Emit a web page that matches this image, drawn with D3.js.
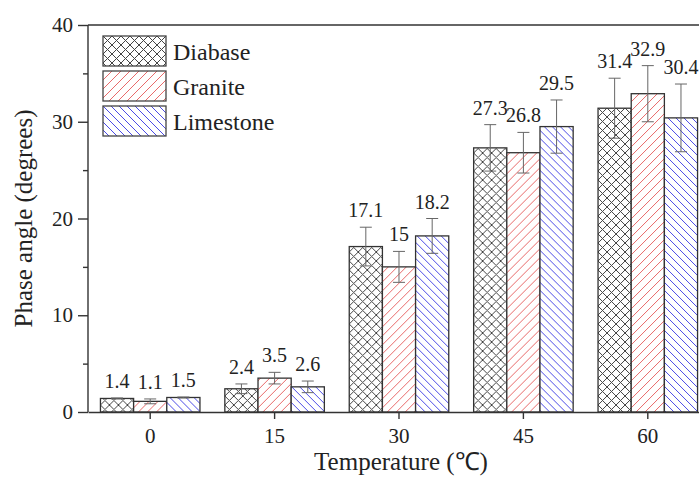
<!DOCTYPE html>
<html>
<head>
<meta charset="utf-8">
<script src="https://cdn.jsdelivr.net/npm/d3@7"></script>
<style>
	body { margin: 0; background: #fff; }
	svg { display: block; font-family: "Liberation Serif", "Times New Roman", serif; }
</style>
</head>
<body>
<svg id="chart"></svg>
<script>
const temperatures = ["0", "15", "30", "45", "60"];
const rocks = ["Diabase", "Granite", "Limestone"];
const diabase = [1.4, 2.4, 17.1, 27.3, 31.4];
const granite = [1.1, 3.5, 15, 26.8, 32.9];
const limestone = [1.5, 2.6, 18.2, 29.5, 30.4];
const diabaseErr = [0.05, 0.5, 2.0, 2.4, 3.1];
const graniteErr = [0.25, 0.6, 1.6, 2.1, 2.9];
const limestoneErr = [0.05, 0.6, 1.8, 2.75, 3.5];
const yTicks = [0, 10, 20, 30, 40];
const yMinorTicks = [5, 15, 25, 35];

const values = [diabase, granite, limestone];
const errors = [diabaseErr, graniteErr, limestoneErr];

const width = 699;
const height = 484;
const margin = { top: 25, left: 88, bottom: 72 };
const plotRight = 710; // the frame runs past the window edge in the original

const svg = d3.select("#chart").attr("width", width).attr("height", height);

// hatch patterns
const defs = svg.append("defs");
const hatch = (id, color, size, dirs) => {
	const p = defs
		.append("pattern")
		.attr("id", id)
		.attr("patternUnits", "userSpaceOnUse")
		.attr("width", size)
		.attr("height", size);
	p.append("rect").attr("width", size).attr("height", size).attr("fill", "#fff");
	dirs.forEach((d) => {
		const pts = d === "/" ? [[-1, size + 1], [size + 1, -1]] : [[-1, -1], [size + 1, size + 1]];
		p.append("line")
			.attr("x1", pts[0][0]).attr("y1", pts[0][1])
			.attr("x2", pts[1][0]).attr("y2", pts[1][1])
			.attr("stroke", color)
			.attr("stroke-width", 1);
	});
};
hatch("pat-diabase", "#444", 9, ["/", "\\"]);
hatch("pat-granite", "#e86a6a", 9, ["/"]);
hatch("pat-limestone", "#4b4be6", 8, ["\\"]);
const fills = ["url(#pat-diabase)", "url(#pat-granite)", "url(#pat-limestone)"];

const x = d3
	.scaleBand()
	.domain(temperatures)
	.range([margin.left, plotRight])
	.paddingInner(0.2)
	.paddingOuter(0.1);
const xInner = d3.scaleBand().domain(rocks).range([0, x.bandwidth()]);
const y = d3
	.scaleLinear()
	.domain([0, 40])
	.range([height - margin.bottom, margin.top]);

// bars
const groups = svg
	.append("g")
	.selectAll("g")
	.data(temperatures)
	.join("g")
	.attr("transform", (d) => `translate(${x(d)},0)`);

rocks.forEach((rock, r) => {
	groups
		.append("rect")
		.attr("x", xInner(rock))
		.attr("y", (d, i) => y(values[r][i]))
		.attr("width", xInner.bandwidth())
		.attr("height", (d, i) => y(0) - y(values[r][i]))
		.attr("fill", fills[r])
		.attr("stroke", "#333")
		.attr("stroke-width", 1.3);
});

// error bars and value labels
rocks.forEach((rock, r) => {
	const cx = xInner(rock) + xInner.bandwidth() / 2;
	const eb = groups.append("g").attr("stroke", "#666").attr("stroke-width", 1);
	eb.append("line")
		.attr("x1", cx).attr("x2", cx)
		.attr("y1", (d, i) => y(values[r][i] + errors[r][i]))
		.attr("y2", (d, i) => y(values[r][i] - errors[r][i]));
	[1, -1].forEach((s) => {
		eb.append("line")
			.attr("x1", cx - 6).attr("x2", cx + 6)
			.attr("y1", (d, i) => y(values[r][i] + s * errors[r][i]))
			.attr("y2", (d, i) => y(values[r][i] + s * errors[r][i]));
	});
	groups
		.append("text")
		.attr("x", cx)
		.attr("y", (d, i) => y(values[r][i] + errors[r][i]) - 10)
		.attr("text-anchor", "middle")
		.attr("font-size", 20)
		.attr("fill", "#222")
		.text((d, i) => values[r][i]);
});

// axes
const axisColor = "#333";
const yAxis = svg
	.append("g")
	.attr("transform", `translate(${margin.left},0)`)
	.call(d3.axisLeft(y).tickValues(yTicks).tickSize(10).tickPadding(5).tickFormat(d3.format("d")));
svg.append("g")
	.attr("transform", `translate(${margin.left},0)`)
	.call(d3.axisLeft(y).tickValues(yMinorTicks).tickSize(5).tickFormat(""))
	.call((g) => g.select(".domain").remove());

const xAxis = svg
	.append("g")
	.attr("transform", `translate(0,${y(0)})`)
	.call(d3.axisBottom(x).tickSize(7).tickPadding(9).tickSizeOuter(0));

svg.selectAll(".tick line, .domain").attr("stroke", axisColor).attr("stroke-width", 1.4);
svg.selectAll(".tick text").attr("font-size", 21).attr("fill", "#222").attr("font-family", "Liberation Serif");
yAxis.select(".domain").attr("d", `M0,${y(0)}V${y(40)}`);

// top frame
svg.append("line")
	.attr("x1", margin.left).attr("x2", plotRight)
	.attr("y1", y(40)).attr("y2", y(40))
	.attr("stroke", axisColor)
	.attr("stroke-width", 1.4);

// axis titles
svg.append("text")
	.attr("x", (margin.left + plotRight) / 2 + 2)
	.attr("y", 470)
	.attr("text-anchor", "middle")
	.attr("font-size", 25)
	.attr("fill", "#222")
	.text("Temperature (℃)");
svg.append("text")
	.attr("transform", `translate(32,${(y(0) + y(40)) / 2}) rotate(-90)`)
	.attr("text-anchor", "middle")
	.attr("font-size", 25)
	.attr("fill", "#222")
	.text("Phase angle (degrees)");

// legend
const legend = svg
	.append("g")
	.selectAll("g")
	.data(rocks)
	.join("g")
	.attr("transform", (d, i) => `translate(103,${36 + i * 35})`);
legend.append("rect")
	.attr("width", 63)
	.attr("height", 30)
	.attr("fill", (d, i) => fills[i])
	.attr("stroke", "#444")
	.attr("stroke-width", 1.3);
legend.append("text")
	.attr("x", 70)
	.attr("y", 24)
	.attr("font-size", 24)
	.attr("fill", "#222")
	.text((d) => d);
</script>
</body>
</html>
